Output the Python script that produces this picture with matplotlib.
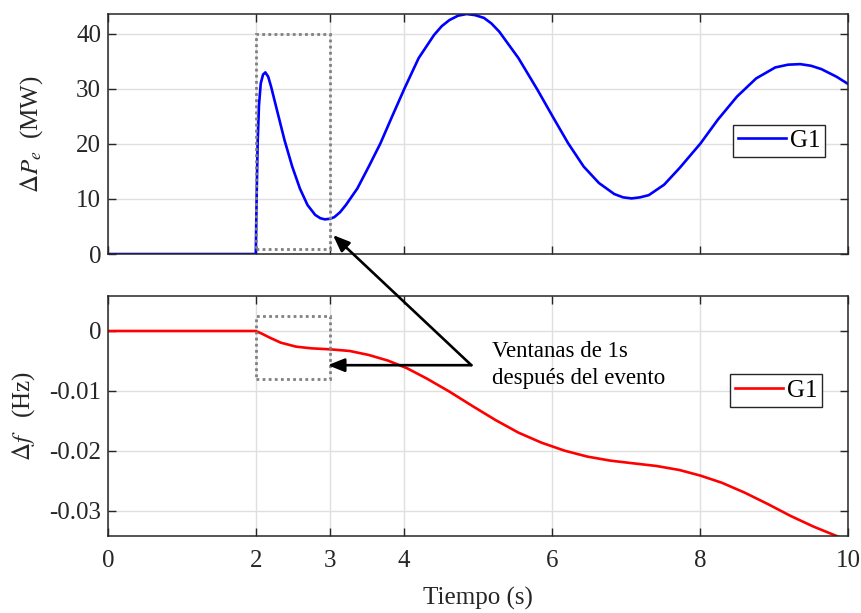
import matplotlib
matplotlib.use('Agg')
import matplotlib.pyplot as plt
from matplotlib.patches import Rectangle

# valores
t_pe = [0, 1.997, 2.008, 2.022, 2.040, 2.064, 2.095, 2.126, 2.165, 2.204, 2.282, 2.385,
        2.489, 2.593, 2.696, 2.800, 2.870, 2.929, 3.000, 3.058, 3.136, 3.214, 3.369,
        3.524, 3.681, 3.836, 4.007, 4.198, 4.406, 4.510, 4.613, 4.730, 4.846, 4.960,
        5.080, 5.180, 5.287, 5.546, 5.805, 6.012, 6.219, 6.427, 6.634, 6.841, 6.960,
        7.075, 7.190, 7.308, 7.515, 7.722, 8.007, 8.240, 8.499, 8.758, 9.017, 9.190,
        9.354, 9.500, 9.639, 9.846, 10.0]
pe = [0, 0, 10.0, 20.1, 27.0, 31.0, 32.6, 33.0, 32.2, 30.4, 26.2, 20.7,
      15.9, 11.9, 8.9, 7.1, 6.5, 6.3, 6.4, 6.7, 7.6, 8.9, 11.9,
      15.9, 20.1, 24.9, 30.1, 35.6, 39.8, 41.4, 42.5, 43.3, 43.6, 43.4,
      42.9, 41.9, 40.4, 35.6, 29.8, 24.9, 20.1, 15.9, 12.9, 10.9, 10.3,
      10.1, 10.3, 10.7, 12.6, 15.6, 20.1, 24.4, 28.6, 31.9, 33.9, 34.4,
      34.5, 34.2, 33.6, 32.2, 30.9]

t_df = [0, 1.997, 2.080, 2.178, 2.333, 2.541, 2.748, 3.007, 3.266, 3.525, 3.784, 4.043,
        4.302, 4.613, 4.924, 5.235, 5.546, 5.857, 6.168, 6.479, 6.790, 7.101, 7.412,
        7.722, 8.007, 8.292, 8.603, 8.914, 9.225, 9.535, 9.846, 10.0]
df = [0, 0, -0.00045, -0.00106, -0.00194, -0.00261, -0.00289, -0.00306, -0.00333,
      -0.00400, -0.00494, -0.00622, -0.00789, -0.01010, -0.01250, -0.01483, -0.01694,
      -0.01861, -0.01994, -0.02094, -0.02161, -0.02206, -0.02250, -0.02317, -0.02411,
      -0.02528, -0.02694, -0.02883, -0.03083, -0.03261, -0.03417, -0.03490]

x_ticks = [0, 2, 3, 4, 6, 8, 10]
pe_ticks = [0, 10, 20, 30, 40]
df_ticks = [0, -0.01, -0.02, -0.03]
df_ticklabels = ['0', '-0.01', '-0.02', '-0.03']

# ventanas de 1 s
win_pe = (2, 1.0, 1, 38.9)
win_df = (2, -0.0080, 1, 0.0105)

plt.rcParams['font.family'] = ['Liberation Serif', 'DejaVu Serif']
plt.rcParams['mathtext.fontset'] = 'stix'

dark = '#262626'
grid_c = '#dfdfdf'

fig = plt.figure(figsize=(8.62, 6.13), dpi=100)
ax1 = fig.add_axes([0.1253, 0.5856, 0.8585, 0.3915])
ax2 = fig.add_axes([0.1253, 0.1256, 0.8585, 0.3915])

for ax in (ax1, ax2):
    ax.set_xlim(0, 10)
    ax.set_xticks(x_ticks)
    ax.grid(True, color=grid_c, lw=1.0)
    ax.set_axisbelow(True)
    ax.tick_params(direction='in', top=True, right=True, length=5.5, width=1.0,
                   colors=dark, labelsize=18)
    ax.tick_params(axis='x', pad=10)
    ax.tick_params(axis='y', pad=5)
    for s in ax.spines.values():
        s.set_color(dark)
        s.set_linewidth(1.1)

leg_kw = dict(loc='upper right', fontsize=18, frameon=True, fancybox=False,
              edgecolor=dark, framealpha=1, handlelength=1.9, handletextpad=0.15,
              borderpad=0.2, borderaxespad=0)

ax1.plot(t_pe, pe, color='#0000ff', lw=1.9, label='G1')
ax1.set_ylim(0, 43.6)
ax1.set_yticks(pe_ticks)
ax1.set_xticklabels([])
ax1.set_ylabel(r'$\Delta P_e\ \ $(MW)', color=dark, fontsize=18)
ax1.yaxis.set_label_coords(-0.085, 0.5)
ax1.add_patch(Rectangle(win_pe[:2], win_pe[2], win_pe[3], fill=False, ec='#808080',
                        lw=2.0, ls=(0, (1, 1.2)), zorder=3))
ax1.legend(bbox_to_anchor=(0.969, 0.539), **leg_kw)

ax2.plot(t_df, df, color='#ff0000', lw=1.9, label='G1')
ax2.set_ylim(-0.03417, 0.00583)
ax2.set_yticks(df_ticks)
ax2.set_yticklabels(df_ticklabels)
ax2.set_ylabel(r'$\Delta f\ \ \ $(Hz)', color=dark, fontsize=18)
ax2.yaxis.set_label_coords(-0.096, 0.5)
ax2.set_xlabel('Tiempo (s)', color=dark, fontsize=18, labelpad=11)
ax2.add_patch(Rectangle(win_df[:2], win_df[2], win_df[3], fill=False, ec='#808080',
                        lw=2.0, ls=(0, (1, 1.2)), zorder=3))
ax2.legend(bbox_to_anchor=(0.965, 0.674), **leg_kw)

# flechas y texto
arrow = dict(arrowstyle='-|>,head_length=1.0,head_width=0.4', color='black', lw=1.9,
             shrinkA=0, shrinkB=0)
ax2.annotate('', xy=(3.04, 3.45), xycoords=ax1.transData,
             xytext=(4.91, -0.0057), textcoords=ax2.transData,
             arrowprops=arrow, annotation_clip=False, zorder=10)
ax2.annotate('', xy=(2.97, -0.0057), xycoords=ax2.transData,
             xytext=(4.91, -0.0057), textcoords=ax2.transData,
             arrowprops=arrow, annotation_clip=False, zorder=10)
ax2.text(5.19, -0.0057, 'Ventanas de 1s\ndespués del evento', fontsize=16.5,
         color='black', ha='left', va='center', linespacing=1.4)

fig.savefig('out.png', dpi=100)
